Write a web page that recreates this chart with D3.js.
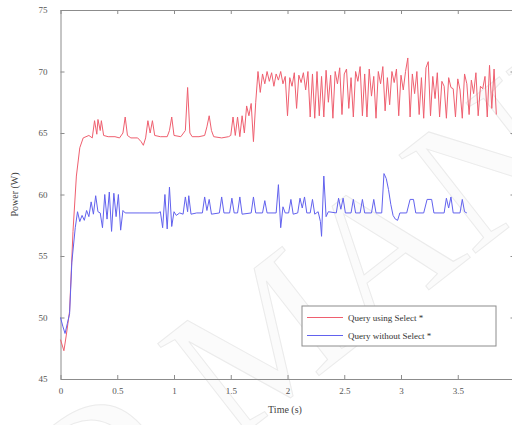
<!DOCTYPE html>
<html lang="en">
<head>
<meta charset="UTF-8">
<title>Power vs time</title>
<script src="https://cdnjs.cloudflare.com/ajax/libs/d3/7.8.5/d3.min.js"></script>
<style>
  body { margin: 0; background: #fff; }
  .axis path, .axis line { stroke: #8c8c8c; }
  .axis text { font-family: "Liberation Serif", "DejaVu Serif", serif; font-size: 9px; fill: #555; }
</style>
</head>
<body>
<div id="chart"></div>
<script>
    // red: query using Select *  [time (s), power (W)]
    var redSeries = [
        [0, 48.2], [0.03, 47.3], [0.05, 48.5], [0.08, 50.5], [0.11, 57], [0.14, 61.5], [0.17, 63.8],
        [0.2, 64.6], [0.25, 64.8], [0.28, 64.6], [0.3, 66], [0.32, 64.9], [0.33, 66.1], [0.35, 65.2],
        [0.36, 66], [0.38, 64.8], [0.42, 64.7], [0.48, 64.7], [0.52, 64.6], [0.55, 65], [0.57, 66.3],
        [0.59, 64.8], [0.62, 64.6], [0.68, 64.6], [0.71, 64.3], [0.73, 64.0], [0.75, 64.6], [0.77, 66],
        [0.79, 65], [0.81, 66], [0.83, 64.8], [0.88, 64.7], [0.94, 64.7], [0.96, 65.2], [0.98, 66.3],
        [1.0, 64.8], [1.06, 64.7], [1.1, 65.2], [1.12, 68.7], [1.14, 65], [1.16, 64.7], [1.22, 64.7],
        [1.27, 64.8], [1.29, 65.5], [1.31, 66.4], [1.33, 65.2], [1.35, 64.7], [1.42, 64.6], [1.48, 64.7],
        [1.5, 64.8], [1.52, 66.3], [1.54, 64.8], [1.56, 66.3], [1.58, 64.7], [1.6, 66.4], [1.62, 65],
        [1.64, 67.2], [1.66, 66.4], [1.68, 67.4], [1.7, 64.3], [1.72, 67.5], [1.74, 70],
        [1.76, 68.3], [1.78, 69.8], [1.80, 69.0], [1.82, 70.0], [1.84, 69.2], [1.86, 69.9], [1.88, 68.8],
        [1.90, 69.8], [1.92, 69.3], [1.94, 70.0], [1.96, 69.0], [1.98, 69.6], [2.00, 66.4], [2.02, 69.5],
        [2.04, 68.8], [2.06, 69.9], [2.08, 67.0], [2.10, 69.7], [2.12, 69.1], [2.14, 69.9], [2.16, 68.5],
        [2.18, 70.0], [2.20, 66.3], [2.22, 69.8], [2.24, 66.2], [2.26, 70.0], [2.28, 66.4], [2.30, 69.6],
        [2.32, 66.3], [2.34, 70.1], [2.36, 67.5], [2.38, 69.7], [2.40, 66.2], [2.42, 70.0], [2.44, 69.0],
        [2.46, 70.3], [2.48, 66.5], [2.50, 69.8], [2.52, 70.2], [2.54, 67.0], [2.56, 69.5], [2.58, 66.3],
        [2.60, 70.0], [2.62, 69.2], [2.64, 70.4], [2.66, 66.4], [2.68, 69.8], [2.70, 66.3], [2.72, 70.2],
        [2.74, 68.0], [2.76, 69.6], [2.78, 66.2], [2.80, 70.0], [2.82, 69.0], [2.84, 70.4], [2.86, 66.8],
        [2.88, 69.5], [2.90, 67.3], [2.92, 70.0], [2.94, 69.1], [2.96, 70.2], [2.98, 66.4], [3.00, 69.7],
        [3.02, 68.5], [3.04, 70.0], [3.06, 71.1], [3.08, 66.3], [3.10, 69.8], [3.12, 68.2], [3.14, 70.0],
        [3.16, 66.5], [3.18, 69.5], [3.20, 66.2], [3.22, 70.3], [3.24, 70.8], [3.26, 66.4], [3.28, 69.6],
        [3.30, 67.8], [3.32, 69.9], [3.34, 66.3], [3.36, 69.2], [3.38, 68.8], [3.40, 66.2], [3.42, 69.5],
        [3.44, 68.7], [3.46, 68.6], [3.48, 66.3], [3.50, 69.4], [3.52, 68.5], [3.54, 66.2], [3.56, 69.8],
        [3.58, 69.0], [3.60, 66.5], [3.62, 69.3], [3.64, 68.2], [3.66, 69.9], [3.68, 66.4], [3.70, 68.8],
        [3.72, 68.6], [3.74, 69.6], [3.76, 66.3], [3.78, 70.5], [3.80, 67.0], [3.82, 70.2], [3.84, 66.5]
    ];

    // blue: query without Select *
    var blueSeries = [
        [0, 50.0], [0.02, 49.3], [0.04, 48.7], [0.06, 49.5], [0.08, 50.3], [0.10, 54.5], [0.13, 57.3],
        [0.15, 58.6], [0.17, 57.8], [0.19, 58.3], [0.21, 57.9], [0.23, 58.7], [0.25, 58.2], [0.27, 59.4],
        [0.29, 58.4], [0.31, 59.9], [0.33, 58.6], [0.35, 58.5], [0.37, 57.3], [0.39, 60.0], [0.41, 58.0],
        [0.43, 60.2], [0.45, 57.0], [0.47, 60.1], [0.49, 58.2], [0.51, 60.0], [0.53, 57.1], [0.55, 58.7],
        [0.57, 58.5], [0.70, 58.5], [0.86, 58.5], [0.88, 58.6], [0.90, 57.3], [0.92, 60.0], [0.94, 57.2],
        [0.96, 60.6], [0.98, 57.4], [1.00, 58.6], [1.02, 58.3], [1.05, 58.5], [1.08, 58.4], [1.10, 59.8],
        [1.12, 58.6], [1.13, 59.9], [1.15, 58.4], [1.20, 58.5], [1.25, 58.5], [1.27, 59.8], [1.29, 58.7],
        [1.31, 59.6], [1.33, 58.4], [1.40, 58.5], [1.42, 59.8], [1.44, 58.5], [1.49, 58.5], [1.51, 59.7],
        [1.53, 58.5], [1.56, 58.5], [1.58, 59.8], [1.60, 58.4], [1.68, 58.5], [1.70, 59.8], [1.72, 58.5],
        [1.78, 58.5], [1.80, 59.5], [1.82, 58.5], [1.90, 58.5], [1.92, 60.8], [1.94, 57.3], [1.96, 59.0],
        [1.98, 58.5], [2.01, 58.5], [2.03, 59.6], [2.05, 58.4], [2.09, 58.5], [2.11, 59.7], [2.13, 58.9],
        [2.15, 59.8], [2.17, 58.5], [2.20, 58.5], [2.22, 59.6], [2.24, 58.4], [2.27, 58.6], [2.29, 57.8],
        [2.30, 56.6], [2.32, 61.5], [2.34, 58.2], [2.36, 58.6], [2.43, 58.5], [2.45, 59.7], [2.47, 58.8],
        [2.49, 59.7], [2.51, 58.5], [2.56, 58.5], [2.58, 59.6], [2.60, 58.5], [2.64, 58.5], [2.66, 59.6],
        [2.68, 58.5], [2.74, 58.5], [2.76, 59.6], [2.78, 58.5], [2.83, 58.5], [2.85, 61.7], [2.87, 61.3],
        [2.89, 60.4], [2.91, 59.2], [2.93, 58.3], [2.95, 58.0], [2.97, 57.9], [2.99, 58.5], [3.05, 58.5],
        [3.08, 59.6], [3.11, 59.6], [3.13, 58.5], [3.20, 58.5], [3.23, 59.6], [3.27, 59.6], [3.29, 58.5],
        [3.38, 58.5], [3.40, 59.7], [3.42, 58.9], [3.44, 59.8], [3.46, 58.5], [3.52, 58.5], [3.54, 59.6],
        [3.56, 58.6], [3.58, 58.5]
    ];

    var xTicks = [0, 0.5, 1, 1.5, 2, 2.5, 3, 3.5, 4];
    var yTicks = [45, 50, 55, 60, 65, 70, 75];
    var seriesNames = ["Query using Select *", "Query without Select *"];
    var seriesColors = ["#ef5f6f", "#6262ee"];

    var W = 512, H = 425;
    var margin = {top: 10, left: 60.5, right: -2.5, bottom: 46};
    var width = W - margin.left - margin.right,
        height = H - margin.top - margin.bottom;

    var svg = d3.select("#chart").append("svg")
        .attr("width", W)
        .attr("height", H);

    // faint watermark behind the plot
    var wm = svg.append("g")
        .attr("transform", "translate(230,445) rotate(-38)");
    wm.append("text")
        .attr("x", -50).attr("text-anchor", "end")
        .style("font-family", "Liberation Serif, serif").style("font-size", "190px")
        .attr("fill", "#fbfbfb").attr("stroke", "#ebebeb").attr("stroke-width", 1)
        .text("ACCEPTED");
    wm.append("text")
        .attr("x", 0)
        .style("font-family", "Liberation Serif, serif").style("font-size", "190px")
        .attr("fill", "#fbfbfb").attr("stroke", "#ebebeb").attr("stroke-width", 1)
        .text("MANUSCRIPT");

    var g = svg.append("g")
        .attr("transform", "translate(" + margin.left + "," + margin.top + ")");

    var x = d3.scaleLinear().domain([0, 4]).range([0, width]);
    var y = d3.scaleLinear().domain([45, 75]).range([height, 0]);

    // axes, MATLAB style box with inward ticks
    g.append("g").attr("class", "axis")
        .attr("transform", "translate(0," + height + ")")
        .call(d3.axisBottom(x).tickValues(xTicks).tickFormat(d3.format("")).tickSizeInner(-4).tickSizeOuter(0).tickPadding(9));
    g.append("g").attr("class", "axis")
        .call(d3.axisTop(x).tickValues(xTicks).tickFormat("").tickSizeInner(-4).tickSizeOuter(0));
    g.append("g").attr("class", "axis")
        .call(d3.axisLeft(y).tickValues(yTicks).tickSizeInner(-4).tickSizeOuter(0).tickPadding(13));
    g.append("g").attr("class", "axis")
        .attr("transform", "translate(" + width + ",0)")
        .call(d3.axisRight(y).tickValues(yTicks).tickFormat("").tickSizeInner(-4).tickSizeOuter(0));

    var line = d3.line()
        .x(function (d) { return x(d[0]); })
        .y(function (d) { return y(d[1]); });

    [redSeries, blueSeries].forEach(function (s, i) {
        g.append("path")
            .datum(s)
            .attr("fill", "none")
            .attr("stroke", seriesColors[i])
            .attr("stroke-width", 1)
            .attr("d", line);
    });

    // axis titles
    svg.append("text")
        .attr("transform", "translate(18," + (margin.top + height / 2) + ") rotate(-90)")
        .attr("text-anchor", "middle")
        .style("font-family", "Liberation Serif, serif").style("font-size", "10px").attr("fill", "#444")
        .text("Power (W)");
    svg.append("text")
        .attr("x", 285).attr("y", 413)
        .attr("text-anchor", "middle")
        .style("font-family", "Liberation Serif, serif").style("font-size", "10px").attr("fill", "#444")
        .text("Time (s)");

    // legend
    var leg = svg.append("g").attr("transform", "translate(302,306)");
    leg.append("rect")
        .attr("width", 194).attr("height", 40)
        .attr("fill", "#fff").attr("stroke", "#8c8c8c");
    seriesNames.forEach(function (name, i) {
        var yy = 11.5 + i * 18;
        leg.append("line")
            .attr("x1", 5).attr("x2", 41).attr("y1", yy).attr("y2", yy)
            .attr("stroke", seriesColors[i]).attr("stroke-width", 1);
        leg.append("text")
            .attr("x", 46).attr("y", yy + 3)
            .style("font-family", "Liberation Serif, serif").style("font-size", "9px").attr("fill", "#333")
            .text(name);
    });
</script>
</body>
</html>
